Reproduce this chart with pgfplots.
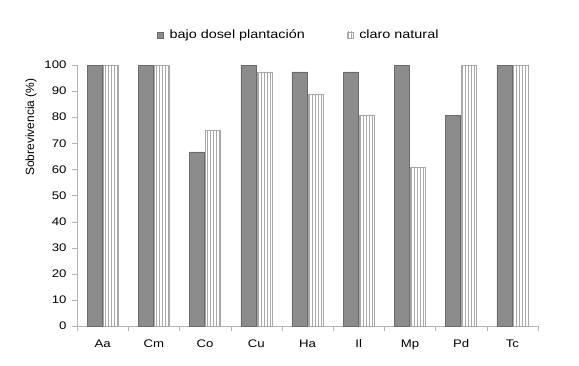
\documentclass[border=0pt]{standalone}
\usepackage{fontspec}
\setmainfont{Liberation Sans}[FakeStretch=1.2]
\newfontfamily\ylabfont{Liberation Sans}
\usepackage{pgfplots}
\pgfplotsset{compat=1.18}
\usetikzlibrary{patterns}
\definecolor{darkbar}{HTML}{8C8C8C}
\definecolor{darkedge}{HTML}{6A6A6A}
\definecolor{lightedge}{HTML}{A8A8A8}
\definecolor{axgray}{HTML}{B4B4B4}
\begin{document}
\begin{tikzpicture}
\path[use as bounding box] (-77pt,-39pt) rectangle (502pt,326pt);
\begin{axis}[
  scale only axis, width=461pt, height=261pt,
  xmin=-0.5, xmax=8.5, ymin=0, ymax=100,
  ybar=1pt, bar width=15pt,
  axis x line*=bottom, axis y line*=left,
  axis line style={draw=axgray, -},
  xtick={0,...,8},
  xticklabels={Aa,Cm,Co,Cu,Ha,Il,Mp,Pd,Tc},
  major x tick style={draw=none},
  extra x ticks={-0.5,0.5,1.5,2.5,3.5,4.5,5.5,6.5,7.5,8.5},
  extra x tick labels={,,,,,,,,,},
  extra x tick style={major x tick style={draw=axgray}, major tick length=5pt, tick align=outside},
  ytick={0,10,...,100},
  tick align=outside, major tick length=5pt,
  y tick style={draw=axgray},
  /pgf/number format/assume math mode=true,
  tick label style={font=\fontsize{11}{12}\selectfont},
  xticklabel style={yshift=-5pt},
  yticklabel style={xshift=-2pt},
  ylabel={Sobrevivencia (\%)},
  ylabel style={font=\ylabfont\fontsize{12}{14}\selectfont, at={(axis description cs:-0.0998,0.762)}, anchor=center},
  legend style={draw=none, at={(rel axis cs:0.1735,1.115)}, anchor=west, font=\fontsize{12}{14}\selectfont, inner sep=0pt},
  legend columns=2,
  legend cell align=left,
  /tikz/every odd column/.append style={column sep=4pt},
  /tikz/every even column/.append style={column sep=40pt},
  legend image code/.code={\draw[#1] (0pt,-3pt) rectangle (6pt,3pt);},
]
\addplot[fill=darkbar, draw=darkedge] coordinates {
(0,100) (1,100) (2,66.7) (3,100) (4,97.4) (5,97.4) (6,100) (7,80.8) (8,100)};
\addplot[pattern=vertical lines, pattern color=lightedge, draw=lightedge] coordinates {
(0,100) (1,100) (2,75) (3,97.4) (4,88.9) (5,80.9) (6,61) (7,100) (8,100)};
\legend{bajo dosel plantación, claro natural}
\end{axis}
\end{tikzpicture}
\end{document}
